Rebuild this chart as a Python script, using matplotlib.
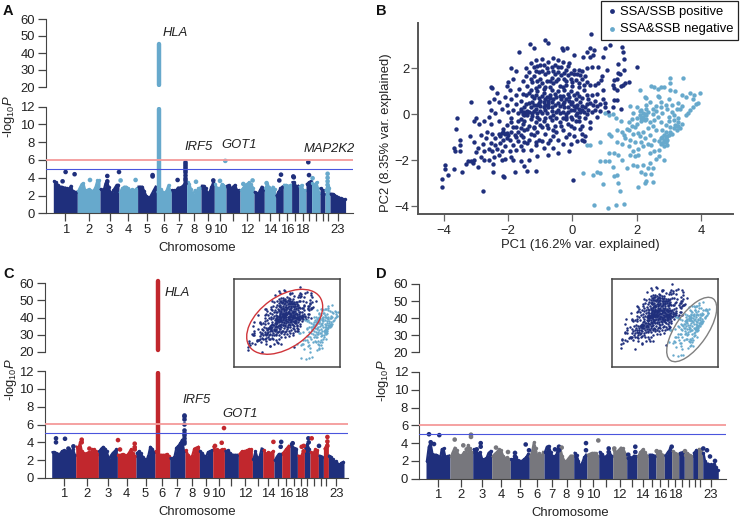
import matplotlib
matplotlib.use('Agg')
import numpy as np
import matplotlib.pyplot as plt
from matplotlib.patches import Ellipse

plt.rcParams['font.family'] = ['Liberation Sans', 'DejaVu Sans']
plt.rcParams['mathtext.fontset'] = 'custom'
plt.rcParams['mathtext.rm'] = 'Liberation Sans'
plt.rcParams['mathtext.it'] = 'Liberation Sans:italic'
plt.rcParams['font.size'] = 9.4

NAVY = '#1f2f7c'
LIGHT = '#67a9cc'
RED = '#c1272d'
GRAY = '#77777d'
AXIS = '#444444'

chrom_bounds = [0, 24, 46.7, 65.7, 84.3, 103.3, 118, 133.3, 147.7, 161, 172.7, 186.7, 200.7,
                211, 222.3, 230, 238.3, 245.7, 252.7, 258.3, 266.7, 271.7, 276.7, 292.3]
labelled_chroms = [1, 2, 3, 4, 5, 6, 7, 8, 9, 10, 12, 14, 16, 18, 23]

sky_a = [[3.6, 3.5, 3.2, 3.0, 3.0, 2.9, 2.9, 2.8, 2.7, 3.1, 2.5, 2.4, 2.4],
         [2.5, 2.9, 3.3, 3.4, 2.6, 2.6, 2.7, 2.6, 2.5, 2.6, 3.0, 3.7, 3.7],
         [2.7, 2.6, 2.7, 3.4, 3.5, 3.0, 2.4, 2.2, 2.6, 2.9, 3.2, 3.2],
         [2.4, 2.8, 3.0, 3.0, 2.8, 2.6, 2.7, 2.6, 2.8],
         [3.0, 3.0, 3.0, 2.5, 2.0, 1.8, 1.8, 2.2, 2.6, 3.0],
         [2.4, 2.5, 2.7, 2.4, 2.3, 2.6, 3.2, 2.5],
         [2.6, 2.6, 2.6, 2.9, 2.9, 3.0, 3.2, 3.4],
         [3.5, 3.3, 2.7, 2.0, 2.6, 2.4, 2.8, 2.9],
         [3.1, 3.1, 2.8, 2.3, 2.4, 3.0, 3.5],
         [3.3, 2.9, 2.8, 2.8, 3.3, 3.2, 3.0],
         [3.1, 3.2, 2.8, 3.0, 3.2, 2.6, 2.6],
         [2.6, 2.8, 3.2, 3.3, 3.5, 3.3, 2.9],
         [2.4, 2.3, 2.2, 2.6, 3.0, 2.6],
         [2.8, 3.3, 3.0, 2.6, 3.0, 2.7],
         [2.0, 2.4, 2.8, 3.0],
         [3.2, 3.2, 3.1, 3.2],
         [3.5, 3.5, 3.0, 3.1],
         [3.0, 3.2, 2.6, 2.6],
         [3.3, 3.5, 3.6],
         [3.4, 3.0, 3.3, 3.5, 2.8, 2.3],
         [2.8, 2.6, 2.2],
         [2.6, 3.1, 2.9],
         [2.2, 2.2, 2.1, 1.9, 1.8, 1.7, 1.7, 1.6, 1.6]]
sky_c = [[2.9, 2.9, 2.8, 2.7, 2.7, 3.0, 3.1, 3.0, 2.9, 3.2, 2.8, 3.3, 2.6],
         [3.5, 3.3, 4.0, 3.0, 2.8, 2.6, 2.8, 2.9, 2.8, 3.2, 3.2, 3.0, 2.7],
         [3.0, 3.3, 3.5, 3.3, 3.0, 2.0, 2.5, 2.8, 3.0, 3.2],
         [2.6, 2.6, 2.7, 2.6, 2.5, 2.8, 3.2, 2.8, 2.5],
         [2.8, 3.0, 2.8, 2.4, 2.1, 2.0, 2.5, 3.5, 3.3, 2.9],
         [3.0, 2.7, 2.6, 2.6, 2.6, 2.6, 2.7, 2.5],
         [2.2, 2.2, 2.4, 3.4, 3.6, 3.9, 4.3, 3.0],
         [3.1, 2.6, 2.3, 2.5, 3.3, 3.4, 3.5],
         [3.0, 2.8, 2.5, 2.4, 2.9, 3.0, 3.1],
         [3.5, 3.0, 3.2, 2.9, 3.1, 3.2, 3.2],
         [3.0, 3.1, 2.8, 2.6, 2.6, 2.6],
         [2.7, 3.0, 3.0, 3.1, 3.2, 3.2],
         [2.1, 3.0, 2.2, 2.4, 3.3],
         [3.1, 2.7, 2.9, 2.8, 3.0],
         [2.0, 2.4, 2.7, 2.7],
         [2.8, 3.2, 3.6],
         [3.8, 3.4, 3.3],
         [2.5, 2.4, 3.0],
         [3.5, 3.8, 3.3],
         [2.9, 2.7, 3.2, 3.1],
         [2.5, 2.4],
         [3.3, 3.8],
         [2.5, 2.4, 2.1, 1.8, 1.9, 1.6, 1.5, 1.7, 1.8]]
sky_d = [[2.0, 3.6, 4.0, 2.8, 2.7, 2.7, 2.6, 2.1, 3.3, 3.4, 2.4, 2.5, 2.6],
         [2.5, 3.0, 3.5, 3.2, 2.7, 2.5, 2.7, 3.0, 2.7, 3.8, 3.4, 3.0],
         [3.3, 3.1, 2.8, 3.0, 2.2, 2.2, 2.3, 2.9, 3.1],
         [2.5, 2.8, 3.0, 3.3, 3.2, 2.6, 2.3, 2.4, 2.2],
         [2.2, 2.2, 2.4, 2.1, 2.0, 2.0, 2.2, 2.4, 2.8],
         [2.5, 3.0, 4.1, 3.4, 2.4, 2.9, 2.4, 3.0],
         [3.0, 3.6, 3.7, 3.0, 2.5, 2.5, 2.7, 3.5],
         [3.4, 2.5, 2.0, 2.0, 2.3, 2.6, 2.6],
         [2.9, 2.7, 2.0, 1.3, 1.8, 2.4, 2.7],
         [2.7, 2.8, 2.9, 2.9, 2.9, 2.6],
         [3.0, 2.8, 2.4, 2.6, 3.0, 2.6],
         [3.2, 3.0, 3.2, 3.5, 3.4, 2.8],
         [2.3, 2.4, 2.3, 2.6, 2.5],
         [2.5, 3.0, 3.3, 3.0, 2.6],
         [2.7, 2.7, 2.6],
         [2.8, 2.9, 2.7],
         [2.6, 3.0, 3.4],
         [3.1, 2.9, 2.8],
         [2.9, 3.0],
         [2.7, 2.9, 2.7, 2.5],
         [2.9, 3.2],
         [3.3, 3.3],
         [2.9, 2.0, 1.7, 1.7, 1.5, 1.6, 1.5, 1.7, 1.3, 1.0]]

hits_a = [(12.3, 4.65), (9.3, 3.6), (21.3, 4.4), (36.7, 3.75), (54.0, 4.2), (54.0, 3.6), (65.7, 4.65),
          (67.3, 3.7), (82.3, 3.75), (99.3, 4.3), (99.3, 4.15), (124.3, 3.75), (142.7, 3.55),
          (166.7, 3.65), (160, 3.7), (172, 5.9), (190, 3.3), (199.3, 3.7), (213.3, 3.4),
          (226, 3.7), (227.7, 4.35), (240, 4.15), (240.5, 4.05), (255, 5.75), (255.7, 4.3),
          (259.3, 3.95), (274.3, 4.45), (274.3, 4.0), (274.3, 3.6), (274.3, 3.2)]
hits_c = [(4.3, 4.45), (4.3, 4.0), (13.3, 4.4), (16.7, 3.3), (21.7, 3.55), (30, 4.3), (30, 4.0),
          (37.7, 3.3), (66.3, 4.25), (68.3, 3.2), (83, 3.85), (83, 3.45), (83, 3.2), (170, 3.95),
          (163.3, 3.6), (172.3, 5.6), (221.7, 4.05), (229, 3.5), (229.5, 4.05), (241, 3.9),
          (250, 3.5), (252, 3.6), (252, 3.0), (256.7, 4.45), (260, 4.45), (257, 4.0), (267.3, 3.6),
          (275.7, 4.6), (275.7, 4.1), (275.7, 3.6)]
hits_d = [(3, 5.0), (13.3, 4.9), (8, 3.9), (4.7, 4.1), (28.7, 4.4), (37.3, 3.75), (45, 4.95), (45, 4.7),
          (40.7, 3.3), (54.7, 4.0), (54.7, 3.6), (50.7, 3.3), (70, 3.5), (82, 3.0), (89, 2.9), (89, 2.5),
          (99.7, 3.85), (103, 3.2), (129, 3.3), (133, 3.6), (135.7, 3.5), (133, 3.2), (160, 4.0), (160, 3.2),
          (172.3, 4.3), (182.7, 3.4), (182.7, 3.0), (188.3, 3.4), (202.3, 2.7), (209.3, 3.6), (209.3, 3.0),
          (230.7, 3.1), (234, 3.0), (245.7, 3.6), (259, 3.1), (281, 3.2), (284, 2.5), (289, 2.0), (277.3, 3.4)]

hla_pos = 106
hla_top_a = 45.5
hla_top_c = 61.5
irf5_pos_a = 131.7
irf5_vals_a = [5.75, 5.55, 5.35, 5.1, 4.85, 4.6, 4.3, 4.0, 3.7, 3.4]
irf5_pos_c = 132.3
irf5_vals_c = [7.1, 6.9, 6.6, 6.1, 5.4, 5.0, 4.8, 4.5, 4.2, 3.9]
genome_wide = 6.05
suggestive = 5.0

pos_pts = [
    (0.57, 3.52), (-1.32, 3.08), (-0.87, 3.23), (-0.75, 3.13), (-1.21, 2.9), (-1.65, 2.72), (-0.33, 2.9),
    (-0.18, 2.9), (-0.3, 2.8), (0.06, 2.6), (0.55, 2.87), (0.67, 2.8), (1.0, 2.87), (1.17, 3.0), (1.53, 2.94),
    (1.57, 2.72), (0.45, 2.7), (0.34, 2.48), (0.55, 2.5), (0.65, 2.58), (0.96, 2.5), (1.6, 2.43), (1.43, 2.2),
    (2.0, 2.05), (0.45, 2.0), (0.6, 2.07), (0.8, 2.07), (1.07, 1.93), (1.6, 1.93), (1.48, 1.75), (0.45, 1.4),
    (0.55, 1.3), (0.7, 1.3), (0.8, 1.35), (0.88, 1.5), (0.93, 1.65), (1.3, 1.5), (1.38, 1.55), (1.42, 1.8),
    (1.65, 1.35), (1.75, 1.4), (1.5, 1.25), (1.3, 1.15), (1.4, 1.05), (1.58, 1.3), (1.25, 1.3), (0.95, 0.65),
    (1.0, 0.5), (1.3, 0.63), (1.4, 0.63), (1.25, 0.3), (1.5, 0.25), (1.0, 0.3), (1.1, 0.1), (0.85, 0.45),
    (0.7, 0.6), (0.6, 0.85), (0.75, 0.9), (0.95, 1.05), (-3.15, 0.52), (-3.58, -0.17), (-3.64, -0.62),
    (-3.5, -1.1), (-3.7, -1.48), (-3.5, -1.35), (-3.65, -1.58), (-3.5, -1.58), (-3.98, -2.2), (-3.96, -2.4),
    (-3.7, -2.4), (-3.87, -2.65), (-4.07, -2.8), (-3.45, -2.5), (-4.07, -3.17), (-2.8, -3.35), (-2.12, -2.75),
    (-2.15, -2.7), (-2.47, -2.5), (-1.78, -2.5), (-1.4, -2.45), (-1.13, -2.47), (0.01, -2.85), (-2.48, -2.15),
    (-3.3, -2.15), (-3.25, -2.05), (-3.15, -2.05), (-3.05, -2.0), (-3.1, -2.1), (-2.93, -2.3), (-2.75, -2.0),
    (-2.6, -2.0), (-2.45, -1.85), (-2.2, -2.0), (-2.1, -1.95), (-1.9, -1.85), (-1.85, -2.0), (-1.6, -2.05),
    (-1.5, -2.25), (-1.35, -2.0), (-1.1, -1.8), (-0.75, -1.75), (-0.45, -1.7), (-0.1, -1.6), (-0.05, -1.3),
    (-3.05, -1.2), (-2.95, -1.45), (-3.0, -1.65), (-2.85, -1.85), (-2.75, -1.6), (-2.8, -1.3), (-2.7, -1.05),
    (-2.85, -0.9), (-2.65, -0.75), (-2.5, -0.85), (-2.4, -1.05), (-2.55, -1.25), (-2.4, -1.35), (-2.35, -1.5),
    (-2.5, -1.6), (-2.2, -1.6), (-2.1, -1.4), (-2.25, -1.25), (-2.15, -1.1), (-2.3, -0.85), (-2.2, -0.8),
    (-2.15, -0.75), (-2.1, -0.85), (-2.05, -0.8), (-2.0, -0.9), (-1.95, -1.1), (-1.85, -1.35), (-1.95, -1.6),
    (-1.75, -1.55), (-1.6, -1.4), (-1.7, -1.15), (-1.55, -1.0), (-1.4, -1.25), (-1.3, -1.55), (-1.15, -1.35),
    (-1.05, -1.1), (-0.9, -1.45), (-0.75, -1.25), (-0.6, -1.45), (-0.45, -1.1), (-0.3, -1.3), (-0.6, -0.95),
    (-0.85, -0.85), (-1.1, -0.75), (-1.3, -0.85), (-1.5, -0.7), (-1.7, -0.75), (-1.85, -0.55), (-2.05, -0.45),
    (-2.3, -0.3), (-2.55, -0.4), (-2.75, -0.3), (-2.9, -0.4), (-3.0, -0.15), (-2.6, -0.1), (-2.4, 0.05),
    (-2.55, 0.2), (-2.2, 0.25), (-2.0, 0.1), (-1.9, -0.15), (-1.7, -0.3), (-1.55, -0.4), (-1.35, -0.5),
    (-1.15, -0.35), (-0.95, -0.55), (-0.75, -0.6), (-0.5, -0.75), (-0.3, -0.7), (-0.1, -0.85), (0.05, -0.6),
    (0.25, -0.65), (0.3, -1.1), (0.35, -1.15), (0.15, -1.15), (0.4, -0.95), (-0.15, -0.4), (-0.4, -0.35),
    (-0.65, -0.25), (-0.85, -0.15), (-1.1, -0.1), (-1.3, -0.2), (-1.5, -0.05), (-1.7, 0.05), (-1.85, 0.2),
    (-2.05, 0.4), (-2.3, 0.55), (-2.45, 0.65), (-2.6, 0.55), (-2.5, 1.15), (-2.55, 1.2), (-2.35, 0.95),
    (-2.1, 0.75), (-1.9, 0.65), (-1.75, 0.45), (-1.6, 0.25), (-1.4, 0.15), (-1.25, 0.05), (-1.4, -0.02),
    (-1.3, 0.3), (-1.15, 0.25), (-1.0, 0.15), (-0.8, 0.05), (-0.6, -0.02), (-0.4, 0.05), (-0.2, -0.1),
    (0.0, -0.2), (0.2, -0.3), (0.4, -0.15), (0.55, -0.35), (0.75, -0.1), (0.6, 0.1), (0.35, 0.1), (0.15, 0.05),
    (-0.05, 0.2), (-0.25, 0.3), (-0.45, 0.2), (-0.65, 0.3), (-0.85, 0.4), (-1.05, 0.5), (-1.25, 0.55),
    (-1.45, 0.45), (-1.6, 0.6), (-1.75, 0.85), (-1.95, 1.05), (-2.0, 1.4), (-1.85, 1.55), (-2.05, 1.25),
    (-1.65, 1.1), (-1.45, 0.85), (-1.25, 0.8), (-1.05, 0.7), (-0.85, 0.65), (-0.65, 0.55), (-0.45, 0.5),
    (-0.25, 0.55), (-0.05, 0.45), (0.15, 0.4), (0.3, 0.35), (0.45, 0.45), (0.5, 0.65), (0.3, 0.7), (0.1, 0.65),
    (-0.1, 0.75), (-0.3, 0.8), (-0.5, 0.75), (-0.7, 0.85), (-0.9, 0.95), (-1.1, 1.0), (-1.3, 1.05),
    (-1.4, 1.25), (-1.55, 1.45), (-1.75, 1.9), (-1.9, 2.0), (-1.45, 1.65), (-1.25, 1.4), (-1.05, 1.25),
    (-0.85, 1.2), (-0.65, 1.05), (-0.45, 1.0), (-0.25, 1.05), (-0.05, 1.0), (0.15, 0.95), (0.35, 1.05),
    (0.45, 0.85), (0.2, 1.2), (0.0, 1.25), (-0.2, 1.3), (-0.4, 1.25), (-0.6, 1.35), (-0.8, 1.45), (-1.0, 1.55),
    (-1.2, 1.65), (-1.35, 1.85), (-1.45, 2.0), (-1.2, 2.05), (-1.05, 1.85), (-0.85, 1.75), (-0.65, 1.6),
    (-0.45, 1.55), (-0.25, 1.55), (-0.05, 1.55), (0.1, 1.5), (0.3, 1.55), (0.15, 1.75), (-0.05, 1.8),
    (-0.25, 1.8), (-0.45, 1.85), (-0.6, 1.9), (-0.8, 2.0), (-1.0, 2.15), (-1.15, 2.35), (-0.95, 2.4),
    (-1.3, 2.25), (-0.75, 2.3), (-0.55, 2.15), (-0.35, 2.05), (-0.15, 2.1), (0.05, 1.95), (0.2, 1.95),
    (0.3, 1.9), (-0.6, 2.45), (-0.45, 2.35), (-0.3, 2.3), (-0.1, 2.25), (-0.85, 0.2), (-1.6, -0.6),
    (-1.2, -0.6), (-0.9, -0.3), (-0.55, -0.5), (-0.2, -0.2), (0.1, -0.05), (0.05, 0.2), (-1.35, 0.5),
    (-0.75, 0.45), (-0.35, 0.65), (-0.95, 0.8), (-0.55, 0.9), (-1.15, 0.85), (-0.15, 0.3), (0.25, 0.55),
    (-1.5, 0.3), (-1.2, -0.9), (-0.95, -1.15), (-1.55, -1.55), (-1.0, 0.35), (-0.7, 0.7), (-0.3, 0.1),
    (0.1, 0.3), (-1.8, -0.9), (-1.6, -0.9), (-2.6, -1.5), (-3.2, -0.95), (-3.05, -0.3), (-2.3, -1.75),
    (-1.6, 0.15), (-1.5, 0.12), (-1.45, 0.05), (-1.55, 0.0), (-1.35, 0.1), (-1.2, 0.15), (-1.1, 0.05),
    (-1.25, -0.08), (-1.05, -0.2), (-0.95, 0.05), (-0.9, 0.3), (-1.1, 0.4), (-1.2, 0.4), (-1.0, 0.6),
    (-0.9, 0.55), (-0.8, 0.75), (-0.75, 0.6), (-0.6, 0.65), (-0.55, 0.4), (-0.4, 0.35), (-0.3, 0.45),
    (-0.2, 0.65), (-0.1, 0.6), (0.0, 0.55), (0.05, 0.35), (0.2, 0.25), (0.3, 0.2), (0.4, 0.3), (0.5, 0.2),
    (0.45, 0.0), (0.2, -0.1), (0.1, -0.3), (-0.05, -0.1), (-0.3, -0.15), (-0.5, -0.15), (-0.7, -0.1),
    (-0.65, 0.15), (-0.75, 0.3), (-0.5, 0.1), (-0.15, 0.1), (-0.35, -0.5), (-0.6, -0.7), (-0.8, -0.45),
    (-1.0, -0.45), (-1.2, -0.55), (-1.4, -0.65), (-0.4, 0.8), (-0.15, 0.9), (0.05, 0.85), (0.2, 0.8),
    (-0.7, 1.2), (-0.9, 1.1), (-1.15, 1.15), (-1.35, 0.95), (-1.55, 0.9), (-1.2, 0.7), (-0.3, 1.2),
    (-0.5, 1.45), (-0.7, 1.45), (-0.95, 1.35), (-1.1, 1.45), (-1.3, 1.55), (-0.2, 1.45), (0.0, 1.4),
    (0.2, 1.35), (0.35, 1.3), (-0.15, 1.7), (-0.35, 1.7), (-0.55, 1.75), (-0.75, 1.85), (-0.95, 1.9),
    (-1.15, 1.9), (-0.45, 2.05), (-0.65, 2.05), (-0.9, 2.15), (-1.1, 2.1), (-0.2, 1.95), (0.05, 1.75),
    (0.25, 1.7), (0.4, 1.65), (-1.75, -1.0), (-1.9, -0.75), (-2.15, -0.65), (-2.25, -0.95), (-2.05, -1.05),
    (-1.75, -0.55), (-1.9, -0.35), (-1.6, -0.2), (-1.5, -0.3), (0.65, 0.4), (0.75, 0.35), (0.55, 0.5),
    (0.7, 0.2), (0.85, 0.15), (0.55, -0.6), (0.3, -0.85), (0.05, -0.95), (-0.2, -1.0), (-0.7, -1.1),
    (-1.15, -1.2), (-1.35, -1.1), (-1.5, -1.2), (-0.05, -0.5), (0.3, -0.5), (-0.2, 0.0), (0.25, 0.1),
]
neg_pts = [
    (3.45, 1.6), (3.05, 1.57), (3.05, 1.35), (2.45, 1.25), (2.55, 1.2), (2.75, 1.2), (2.85, 1.2), (2.1, 1.08),
    (2.65, 1.1), (3.05, 1.05), (3.2, 1.0), (3.65, 0.95), (3.8, 0.85), (3.98, 0.92), (2.25, 0.75), (2.3, 0.7),
    (2.65, 0.8), (2.7, 0.75), (3.0, 0.65), (3.4, 0.85), (3.55, 0.75), (3.75, 0.65), (3.9, 0.5), (3.85, 0.45),
    (3.75, 0.3), (3.65, 0.2), (3.6, 0.05), (3.55, -0.05), (3.3, 0.5), (3.4, 0.35), (3.25, 0.25), (3.35, 0.25),
    (3.1, 0.1), (2.95, 0.25), (2.75, 0.55), (2.6, 0.35), (2.5, 0.25), (2.3, 0.25), (2.15, 0.2), (2.0, 0.3),
    (1.8, 0.35), (1.9, 0.05), (2.1, -0.05), (2.2, -0.1), (2.3, -0.2), (2.15, -0.3), (2.0, -0.4), (1.85, -0.2),
    (1.75, -0.35), (2.5, 0.0), (2.65, -0.1), (2.8, 0.05), (3.0, -0.1), (3.15, -0.05), (3.3, -0.15), (3.3, -0.35),
    (3.4, -0.4), (3.25, -0.5), (3.15, -0.6), (3.05, -0.75), (3.0, -0.9), (2.9, -1.05), (2.85, -1.2), (2.75, -1.3),
    (2.85, -1.4), (2.7, -1.15), (2.95, -1.35), (2.6, -0.7), (2.5, -0.5), (2.35, -0.6), (2.2, -0.75), (2.05, -0.8),
    (1.9, -0.85), (1.7, -0.65), (1.55, -0.75), (1.4, -0.7), (1.2, -0.95), (1.15, -0.85), (1.65, -1.05),
    (1.8, -1.1), (1.95, -1.2), (2.1, -0.95), (2.25, -1.05), (2.4, -0.9), (2.55, -1.1), (2.35, -1.3),
    (2.2, -1.4), (2.05, -1.5), (1.9, -1.6), (1.75, -1.4), (1.55, -1.3), (1.4, -1.2), (1.95, -1.8), (2.05, -1.75),
    (1.8, -1.75), (2.4, -1.7), (2.55, -1.6), (2.7, -1.55), (2.7, -1.8), (2.6, -1.95), (2.85, -2.0), (2.4, -2.1),
    (2.2, -2.2), (2.0, -2.25), (2.35, -2.35), (2.5, -2.35), (2.15, -2.5), (2.25, -2.6), (2.45, -2.6), (2.3, -2.9),
    (2.25, -3.0), (2.5, -2.95), (2.05, -3.15), (0.33, -2.55), (0.65, -2.65), (0.78, -2.5), (0.85, -2.55),
    (0.95, -3.05), (1.4, -2.65), (1.3, -2.7), (1.42, -2.98), (1.48, -3.35), (0.68, -3.95), (1.1, -4.07),
    (1.37, -3.95), (1.62, -3.92), (0.45, -1.35), (0.55, -1.35), (0.85, -1.22), (1.15, -1.7), (1.3, -1.7),
    (1.42, -1.75), (1.55, -2.0), (0.85, -2.05), (1.0, -2.05), (1.15, -2.05), (1.25, -2.3), (1.7, -2.35),
    (1.9, -2.2), (1.0, 0.05), (1.25, 0.0), (1.35, -0.15), (1.5, -0.3), (1.15, -0.05), (2.4, 0.55), (2.3, 0.4),
    (2.75, 0.3), (2.9, 0.4), (3.1, 0.4), (2.55, -0.25), (2.75, -0.35), (2.9, -0.45), (3.0, -0.3), (3.15, -0.25),
    (2.8, -0.7), (2.9, -0.75), (3.05, -0.55), (2.95, -1.1), (2.8, -1.0), (2.2, 0.05), (2.35, 0.1), (2.1, 0.15),
    (2.25, 0.0), (2.4, -0.35), (2.6, 0.15), (1.95, -0.55), (1.75, -0.7), (2.15, -1.2), (2.45, -1.35),
    (2.2, -0.2), (2.25, -0.25), (2.3, -0.05), (2.12, -0.15), (3.3, -0.5), (3.35, -0.6), (3.25, -0.7),
    (3.2, -0.45), (2.85, -1.1), (2.9, -1.2), (2.8, -1.25), (2.75, -1.05), (2.95, -0.95), (3.1, -0.85),
    (2.85, -0.9), (1.6, -0.9), (1.85, -0.5), (2.0, -0.15),
]

series_colours = {'a': (NAVY, LIGHT), 'c': (NAVY, RED), 'd': (NAVY, GRAY)}

W, H = 740, 519
fig = plt.figure(figsize=(W / 100, H / 100), dpi=100)


def ax_px(left, top, right, bottom):
    return fig.add_axes([left / W, 1 - bottom / H, (right - left) / W, (bottom - top) / H])


def text_px(x, y, s, **kw):
    fig.text(x / W, 1 - y / H, s, va='center', **kw)


def draw_manhattan(left, right, start, low_top, low_bottom, up_top, up_bottom, sky, hits, cols, xlab, ylab):
    xlim = (left - start, right - start)
    low = ax_px(left, low_top, right, low_bottom)
    up = ax_px(left, up_top, right, up_bottom)
    for i, heights in enumerate(sky):
        col = cols[i % 2]
        x0, x1 = chrom_bounds[i], chrom_bounds[i + 1]
        step = (x1 - x0) / len(heights)
        xs = x0 + step * (np.arange(len(heights)) + 0.5)
        # the mass of SNPs drawn as a filled outline through the read heights
        outline_x = [x0] + list(xs) + [x1]
        outline_y = [heights[0]] + list(heights) + [heights[-1]]
        low.fill_between(outline_x, outline_y, color=col, linewidth=0)
        low.plot(outline_x[1:-1], outline_y[1:-1], color=col, lw=1.6, solid_joinstyle='round')
        low.scatter(xs, heights, s=6, color=col, linewidth=0)
    hx = [h[0] for h in hits]
    hy = [h[1] for h in hits]
    hc = [cols[(np.searchsorted(chrom_bounds, p) - 1) % 2] for p in hx]
    low.scatter(hx, hy, s=11, c=hc, linewidth=0, zorder=3)
    low.axhline(genome_wide, color='#f59a9a', lw=1.3, zorder=4)
    low.axhline(suggestive, color='#4a55dd', lw=0.8, zorder=4)
    low.set_xlim(xlim)
    low.set_ylim(0, 12)
    low.set_yticks(range(0, 13, 2))
    up.set_xlim(xlim)
    up.set_ylim(20, 60)
    up.set_yticks(range(20, 61, 10))
    up.set_xticks([])
    up.patch.set_alpha(0)
    mids = [(chrom_bounds[i] + chrom_bounds[i + 1]) / 2 for i in range(23)]
    low.set_xticks(mids)
    low.set_xticklabels([str(i + 1) if (i + 1) in labelled_chroms else '' for i in range(23)])
    for ax in (low, up):
        ax.spines['top'].set_visible(False)
        ax.spines['right'].set_visible(False)
        ax.spines['left'].set_color(AXIS)
        ax.spines['bottom'].set_color(AXIS)
        ax.tick_params(length=6, width=0.9, color=AXIS, labelsize=9.4, labelcolor='#222222', pad=2)
    low.tick_params(axis='x', pad=1.5)
    up.spines['bottom'].set_visible(False)
    text_px(xlab[0], xlab[1], 'Chromosome', ha='center', fontsize=9.4, color='#222222')
    text_px(ylab[0], ylab[1], r'-log$_{10}$$\mathit{P}$', ha='center', rotation=90, fontsize=9.4, color='#222222')
    return low, up


def draw_inset(left, top, right, bottom, xlim, ylim, ellipse, edge):
    ins = ax_px(left, top, right, bottom)
    ins.scatter(*zip(*pos_pts), s=3.2, color=NAVY, linewidth=0)
    ins.scatter(*zip(*neg_pts), s=3.0, color=LIGHT, linewidth=0)
    ins.set_xlim(xlim)
    ins.set_ylim(ylim)
    ins.set_xticks([])
    ins.set_yticks([])
    for sp in ins.spines.values():
        sp.set_color('#444444')
        sp.set_linewidth(1.1)
    over = ax_px(left, top, right, bottom)
    over.set_xlim(0, right - left)
    over.set_ylim(0, bottom - top)
    over.axis('off')
    cx, cy, w, h, ang = ellipse
    over.add_patch(Ellipse((cx, cy), w, h, angle=ang, fill=False, edgecolor=edge, lw=1.0))


# A
low, up = draw_manhattan(46, 353, 53.3, 106.7, 213.3, 19, 87, sky_a, hits_a, series_colours['a'], (197, 248), (9, 117))
low.plot([hla_pos, hla_pos], [0, 11.75], color=LIGHT, lw=3.2, solid_capstyle='round', zorder=2)
up.plot([hla_pos, hla_pos], [21, hla_top_a], color=LIGHT, lw=3.2, solid_capstyle='round')
low.scatter([irf5_pos_a] * len(irf5_vals_a), irf5_vals_a, s=11, color=NAVY, linewidth=0, zorder=3)
text_px(175, 33, 'HLA', ha='center', style='italic', fontsize=9.4, color='#222222')
text_px(198.5, 147.5, 'IRF5', ha='center', style='italic', fontsize=9.4, color='#222222')
text_px(239, 145, 'GOT1', ha='center', style='italic', fontsize=9.4, color='#222222')
text_px(329.5, 149, 'MAP2K2', ha='center', style='italic', fontsize=9.4, color='#222222')

# C
low, up = draw_manhattan(45, 348, 51.7, 371, 478, 283.3, 351.7, sky_c, hits_c, series_colours['c'], (197, 511.7), (11, 380))
low.plot([hla_pos, hla_pos], [0, 11.75], color=RED, lw=3.2, solid_capstyle='round', zorder=2)
up.plot([hla_pos, hla_pos], [21, hla_top_c], color=RED, lw=3.2, solid_capstyle='round', clip_on=False)
low.scatter([irf5_pos_c] * len(irf5_vals_c), irf5_vals_c, s=11, color=NAVY, linewidth=0, zorder=3)
text_px(177.5, 293, 'HLA', ha='center', style='italic', fontsize=9.4, color='#222222')
text_px(196.5, 400, 'IRF5', ha='center', style='italic', fontsize=9.4, color='#222222')
text_px(240, 414, 'GOT1', ha='center', style='italic', fontsize=9.4, color='#222222')
draw_inset(234, 279, 340.3, 367, (-5.33, 4.16), (-4.95, 4.38), (50.7, 45.2, 86, 51, 35.5), '#d0353a')

# D
draw_manhattan(419.3, 726, 426, 372, 478.7, 284, 352.3, sky_d, hits_d, series_colours['d'], (570, 512.7), (383, 381))
draw_inset(611.7, 279, 718, 367, (-4.87, 4.77), (-5.19, 4.06), (80, 37.5, 75, 32, 55.5), '#808080')

# B
pca = ax_px(418.3, 23, 733, 214.3)
h_pos = pca.scatter(*zip(*pos_pts), s=10, color=NAVY, linewidth=0, label='SSA/SSB positive')
h_neg = pca.scatter(*zip(*neg_pts), s=10, color=LIGHT, linewidth=0, label='SSA&SSB negative')
pca.set_xlim(-4.8, 5.0)
pca.set_ylim(-4.355, 3.98)
pca.set_xticks([-4, -2, 0, 2, 4])
pca.set_xticklabels(['\u22124', '\u22122', '0', '2', '4'])
pca.set_yticks([-4, -2, 0, 2])
pca.set_yticklabels(['\u22124', '\u22122', '0', '2'])
pca.spines['top'].set_visible(False)
pca.spines['right'].set_visible(False)
pca.spines['left'].set_color('#555555')
pca.spines['bottom'].set_color('#555555')
pca.spines['left'].set_linewidth(1.4)
pca.spines['bottom'].set_linewidth(1.4)
pca.tick_params(length=5, width=0.9, color='#666666', labelsize=9.4, labelcolor='#222222', pad=1.5)
pca.tick_params(axis='x', pad=3)
text_px(580, 245, 'PC1 (16.2% var. explained)', ha='center', fontsize=9.4, color='#222222')
text_px(386, 133, 'PC2 (8.35% var. explained)', ha='center', rotation=90, fontsize=9.4, color='#222222')
leg = pca.legend(handles=[h_pos, h_neg], loc='upper right', bbox_to_anchor=(738 / W, 1 - 1 / H),
                 bbox_transform=fig.transFigure, fancybox=False, edgecolor='#222222', framealpha=1,
                 fontsize=9.4, borderaxespad=0, borderpad=0.35, labelspacing=0.4, handletextpad=0.1,
                 handlelength=1.0, markerscale=1.1)
leg.get_frame().set_linewidth(0.9)

text_px(3, 11, 'A', fontweight='bold', fontsize=10.5, ha='left', color='#111111')
text_px(376, 11, 'B', fontweight='bold', fontsize=10.5, ha='left', color='#111111')
text_px(3, 274, 'C', fontweight='bold', fontsize=10.5, ha='left', color='#111111')
text_px(376, 274, 'D', fontweight='bold', fontsize=10.5, ha='left', color='#111111')

fig.savefig('out.png', dpi=100)
